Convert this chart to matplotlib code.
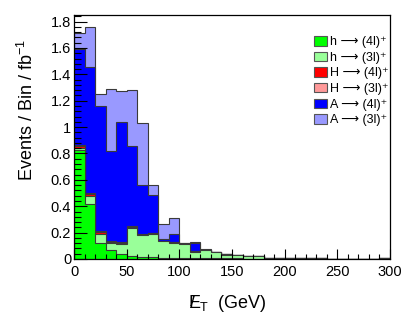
import numpy as np
import matplotlib
matplotlib.use("Agg")
import matplotlib.pyplot as plt
from matplotlib.patches import Patch
from matplotlib.ticker import MultipleLocator

plt.rcParams['font.family'] = ['Liberation Sans', 'DejaVu Sans']
plt.rcParams['mathtext.fontset'] = 'custom'
plt.rcParams['mathtext.rm'] = 'Liberation Sans'
plt.rcParams['mathtext.it'] = 'Liberation Sans'

# missing ET bins, 10 GeV wide, 0 - 300 GeV
bin_edges = np.arange(0, 310, 10)

# contributions per bin (events / bin / fb^-1)
h_4l = [0.83, 0.42, 0.12, 0.072, 0.04, 0.025, 0.012, 0.012, 0.01, 0.008,
        0.007, 0.006, 0.008, 0.005, 0.004, 0.004, 0.003, 0.003, 0.002, 0.002,
        0.002, 0.003, 0.002, 0.001, 0.001, 0.001, 0.001, 0.001, 0.001, 0.001]
h_3l = [0.01, 0.06, 0.07, 0.048, 0.076, 0.209, 0.168, 0.178, 0.125, 0.115,
        0.103, 0.05, 0.057, 0.045, 0.03, 0.024, 0.017, 0.019, 0.006, 0.004,
        0.003, 0.005, 0.003, 0.003, 0.002, 0.002, 0.002, 0.001, 0.001, 0.003]
H_4l = [0.015, 0.015, 0.015, 0.009, 0.008, 0.01, 0.004, 0.004, 0.003, 0.003,
        0.003, 0.002, 0.002, 0.001, 0.001, 0.001, 0.001, 0.001, 0.001, 0.0005,
        0, 0, 0, 0, 0, 0, 0, 0, 0, 0]
H_3l = [0.006, 0.005, 0.006, 0.004, 0.004, 0.005, 0.002, 0.002, 0.002, 0.002,
        0.001, 0.001, 0.001, 0.001, 0.0005, 0.0005, 0, 0, 0, 0,
        0, 0, 0, 0, 0, 0, 0, 0, 0, 0]
A_4l = [0.729, 0.955, 0.948, 0.684, 0.907, 0.611, 0.378, 0.286, 0.012, 0.065,
        0.006, 0.066, 0.004, 0.002, 0.002, 0.001, 0.001, 0.001, 0.001, 0.001,
        0.001, 0.001, 0, 0, 0, 0, 0, 0, 0, 0]
A_3l = [0.121, 0.302, 0.089, 0.473, 0.235, 0.418, 0.466, 0.082, 0.115, 0.117,
        0.002, 0.003, 0.002, 0.001, 0.001, 0.001, 0.001, 0.001, 0.001, 0.0005,
        0, 0, 0, 0, 0, 0, 0, 0, 0, 0]

series = [h_4l, h_3l, H_4l, H_3l, A_4l, A_3l]
labels = ["h ⟶ (4l)⁺", "h ⟶ (3l)⁺", "H ⟶ (4l)⁺",
          "H ⟶ (3l)⁺", "A ⟶ (4l)⁺", "A ⟶ (3l)⁺"]
colors = ['#00ff00', '#99ff99', '#ff0000', '#ff9999', '#0000ff', '#9999ff']
edge = '#3a3a3a'

fig = plt.figure(figsize=(4.15, 3.16), dpi=100)
ax = fig.add_axes([74 / 415, 1 - 259 / 316, 316 / 415, 244 / 316])

# stacked histogram: draw the running sums from the top layer down
stack = np.cumsum(np.array(series), axis=0)
for i in range(len(series) - 1, -1, -1):
    ax.stairs(stack[i], bin_edges, fill=True, facecolor=colors[i],
              edgecolor=edge, linewidth=0.8)

ax.set_xlim(0, 300)
ax.set_ylim(0, 1.85)
ax.xaxis.set_major_locator(MultipleLocator(50))
ax.xaxis.set_minor_locator(MultipleLocator(10))
ax.yaxis.set_minor_locator(MultipleLocator(0.04))
ax.set_yticks(np.arange(0, 1.81, 0.2))
ax.set_yticklabels(["0", "0.2", "0.4", "0.6", "0.8", "1", "1.2", "1.4", "1.6", "1.8"])
ax.tick_params(axis='both', which='both', direction='in', top=False, right=False,
               labelsize=10.5, width=0.8)
ax.tick_params(axis='y', which='major', length=9.5, pad=2)
ax.tick_params(axis='y', which='minor', length=5)
ax.tick_params(axis='x', which='major', length=7, pad=4)
ax.tick_params(axis='x', which='minor', length=3.5)
for s in ax.spines.values():
    s.set_linewidth(0.9)

fig.text(27 / 415, 1 - 39 / 316, "Events / Bin / fb$^{-1}$", rotation=90,
         ha='center', va='top', fontsize=13)
fig.text(228 / 415, 1 - 303 / 316, r"$/\!\!\!E_{T}$  (GeV)", ha='center',
         va='center', fontsize=13)

handles = [Patch(facecolor=c, edgecolor='#555555', linewidth=0.8) for c in colors]
ax.legend(handles, labels, loc='upper left', bbox_to_anchor=(314 / 415, 1 - 36 / 316),
          bbox_transform=fig.transFigure, frameon=False, fontsize=9,
          handlelength=1.05, handleheight=0.8, handletextpad=0.2,
          labelspacing=0.28, borderpad=0, borderaxespad=0)

fig.savefig("out.png", dpi=100)
